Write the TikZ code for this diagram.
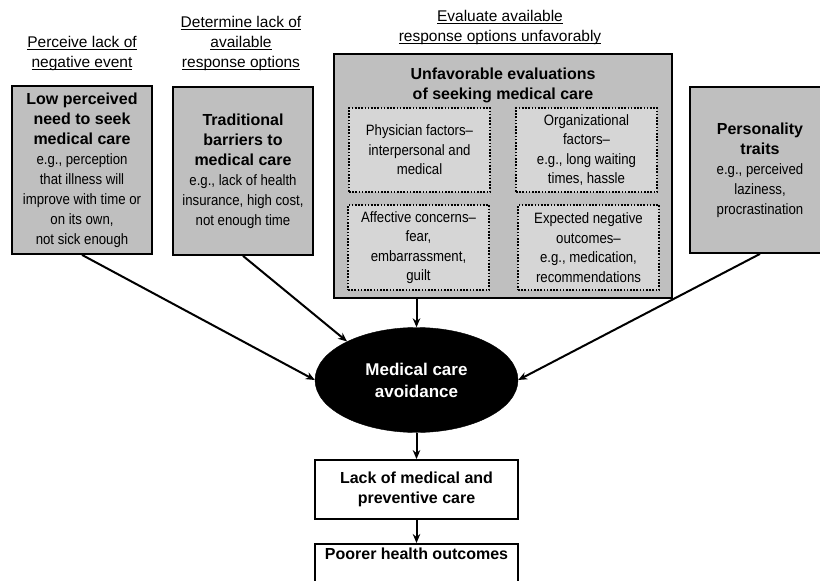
\documentclass[tikz,border=0pt]{standalone}
\usepackage{fontspec}
\setmainfont{Liberation Sans}
\newfontfamily\narrowf[FakeStretch=0.88,Ligatures=TeX]{Liberation Sans}
\usetikzlibrary{shapes.geometric,arrows.meta}
\definecolor{boxgray}{HTML}{BFBFBF}
\definecolor{ingray}{HTML}{D6D6D6}
\newcommand\bigb{\rmfamily\fontsize{16}{20}\selectfont\bfseries}
\newcommand\smr{\narrowf\fontsize{15}{20}\selectfont\mdseries}
\newcommand\inr{\narrowf\fontsize{15}{19.5}\selectfont\mdseries}
\newcommand\hu[1]{\setbox0\hbox{#1}\rlap{\rule[-3pt]{\wd0}{0.8pt}}\box0}
\begin{document}
\begin{tikzpicture}[x=1pt,y=-1pt,
  graybox/.style={draw=black,line width=1.8pt,fill=boxgray,align=center,inner sep=2pt,text=black,font=\smr},
  dotbox/.style={draw=black,line width=1.6pt,dash pattern=on 1.6pt off 1.6pt,fill=ingray,align=center,inner sep=2pt,minimum width=141pt,font=\inr},
  whitebox/.style={draw=black,line width=1.8pt,fill=white,align=center,inner sep=2pt,minimum width=203pt,font=\bigb},
  header/.style={align=center,font=\fontsize{15.5}{20}\selectfont},
  conn/.style={line width=2pt,-{Stealth[length=9pt,width=7.5pt]}}]
\useasboundingbox (0,0) rectangle (820,581);
\clip (0,0) rectangle (820,581);
\fill[white] (0,0) rectangle (820,581);
% headers
\node[header] (h1) at (82,53) {\hu{Perceive lack of}\\\hu{negative event}};
\node[header] (h2) at (241,43) {\hu{Determine lack of}\\\hu{available}\\\hu{response options}};
\node[header] (h3) at (500,27) {\hu{Evaluate available}\\\hu{response options unfavorably}};
% left boxes
\node[graybox,minimum width=140pt,minimum height=168pt] (b1) at (82,170)
  {\bigb Low perceived\\\bigb need to seek\\\bigb medical care\\e.g., perception\\that illness will\\improve with time or\\on its own,\\not sick enough};
\node[graybox,minimum width=140pt,minimum height=168pt] (b2) at (243,171)
  {\bigb Traditional\\\bigb barriers to\\\bigb medical care\\e.g., lack of health\\insurance, high cost,\\not enough time};
\node[graybox,minimum width=140pt,minimum height=166pt] (bp) at (760,170)
  {\bigb Personality\\\bigb traits\\e.g., perceived\\laziness,\\procrastination};
% big box
\node[graybox,minimum width=338pt,minimum height=244pt] (big) at (503,176) {};
\node[align=center,font=\bigb] (title) at (503,85) {Unfavorable evaluations\\of seeking medical care};
\node[dotbox,minimum height=84pt] (tl) at (419.5,150) {Physician factors--\\interpersonal and\\medical};
\node[dotbox,minimum height=84pt] (tr) at (586.5,150) {Organizational\\factors--\\e.g., long waiting\\times, hassle};
\node[dotbox,minimum height=85pt] (bl) at (418.5,247.5) {Affective concerns--\\fear,\\embarrassment,\\guilt};
\node[dotbox,minimum height=85pt] (br) at (588.5,247.5) {Expected negative\\outcomes--\\e.g., medication,\\recommendations};
% ellipse
\node[ellipse,fill=black,draw=black,minimum width=203pt,minimum height=105pt,inner sep=0pt,
  align=center,text=white,font=\fontsize{17}{22}\selectfont\bfseries] (ell) at (416.5,380) {Medical care\\avoidance};
% outcome boxes
\node[whitebox,minimum height=59pt] (lack) at (416.5,489.5) {Lack of medical and\\preventive care};
\node[whitebox,anchor=north,inner ysep=4pt,text height=11.5pt,text depth=35pt] (poor) at (416.5,543) {Poorer health outcomes};
% connectors
\draw[conn] (b1.south) -- (ell.west);
\draw[conn] (b2.south) -- (ell.151);
\draw[conn] (bp.south) -- (ell.east);
\draw[conn] (ell.north |- big.south) -- (ell.north);
\draw[conn] (ell.south) -- (lack.north);
\draw[conn] (lack.south) -- (poor.north);
\end{tikzpicture}
\end{document}
